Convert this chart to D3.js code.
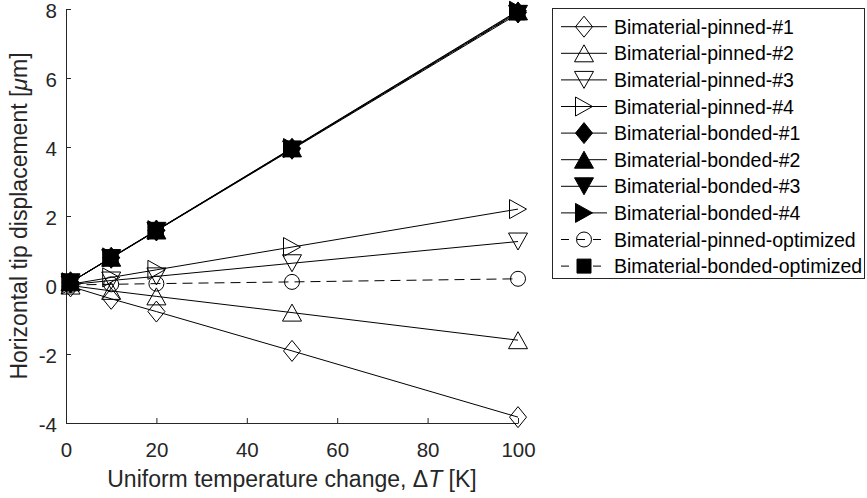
<!DOCTYPE html>
<html>
<head>
<meta charset="utf-8">
<script src="https://cdn.jsdelivr.net/npm/d3@7"></script>
<style>
  html, body { margin: 0; padding: 0; background: #fff; }
  svg { display: block; font-family: "Liberation Sans", Arial, Helvetica, sans-serif; }
</style>
</head>
<body>
<svg id="chart" width="867" height="498"></svg>
<script>
// ---- data ----
const deltaT = [1, 10, 20, 50, 100];
const pinned1 = [-0.04, -0.40, -0.77, -1.91, -3.83];
const pinned2 = [-0.016, -0.17, -0.33, -0.80, -1.60];
const pinned3 = [0.013, 0.13, 0.25, 0.63, 1.26];
const pinned4 = [0.022, 0.22, 0.44, 1.10, 2.20];
const bonded1 = [0.080, 0.79, 1.58, 3.95, 7.90];
const bonded2 = [0.079, 0.79, 1.58, 3.96, 7.93];
const bonded3 = [0.078, 0.78, 1.57, 3.93, 7.86];
const bonded4 = [0.080, 0.80, 1.59, 3.97, 7.95];
const pinnedOpt = [0.002, 0.02, 0.04, 0.09, 0.18];
const bondedOpt = [0.079, 0.79, 1.58, 3.95, 7.89];
const seriesNames = [
  "Bimaterial-pinned-#1", "Bimaterial-pinned-#2", "Bimaterial-pinned-#3", "Bimaterial-pinned-#4",
  "Bimaterial-bonded-#1", "Bimaterial-bonded-#2", "Bimaterial-bonded-#3", "Bimaterial-bonded-#4",
  "Bimaterial-pinned-optimized", "Bimaterial-bonded-optimized"
];
const seriesValues = [pinned1, pinned2, pinned3, pinned4, bonded1, bonded2, bonded3, bonded4, pinnedOpt, bondedOpt];
const seriesMarkers = ["diamond", "triUp", "triDown", "triRight", "diamond", "triUp", "triDown", "triRight", "circle", "square"];
const seriesFilled = [false, false, false, false, true, true, true, true, false, true];
const seriesDashed = [false, false, false, false, false, false, false, false, true, true];
const xTicks = [0, 20, 40, 60, 80, 100];
const yTicks = [-4, -2, 0, 2, 4, 6, 8];

// ---- layout ----
const svg = d3.select("#chart");
const mLeft = 66, mRight = 518, mTop = 9, mBottom = 423;
const x = d3.scaleLinear().domain([0, 100]).range([mLeft, mRight]);
const y = d3.scaleLinear().domain([-4, 8]).range([mBottom, mTop]);
const axisColor = "#262626";

svg.append("rect").attr("width", 867).attr("height", 498).attr("fill", "#fff");

// axes
const gx = svg.append("g").attr("transform", `translate(0,${mBottom})`)
  .call(d3.axisBottom(x).tickValues(xTicks).tickSizeInner(-5).tickSizeOuter(0).tickPadding(19)
    .tickFormat(d => String(d)));
const gy = svg.append("g").attr("transform", `translate(${mLeft},0)`)
  .call(d3.axisLeft(y).tickValues(yTicks).tickSizeInner(-5).tickSizeOuter(0).tickPadding(9)
    .tickFormat(d => String(d)));
[gx, gy].forEach(g => {
  g.selectAll("path.domain").attr("stroke", axisColor).attr("stroke-width", 1);
  g.selectAll(".tick line").attr("stroke", axisColor).attr("stroke-width", 1);
  g.selectAll(".tick text").attr("fill", axisColor).attr("font-size", 20.5)
    .attr("font-family", '"Liberation Sans", Arial, Helvetica, sans-serif');
});
gy.selectAll(".tick text").attr("dy", "0.42em");

// axis labels
const xl = svg.append("text").attr("x", (mLeft + mRight) / 2).attr("y", 487)
  .attr("text-anchor", "middle").attr("font-size", 23).attr("fill", axisColor);
xl.append("tspan").text("Uniform temperature change, \u0394");
xl.append("tspan").attr("font-style", "italic").text("T");
xl.append("tspan").text(" [K]");

const yl = svg.append("text").attr("transform", `translate(27,${(mTop + mBottom) / 2}) rotate(-90)`)
  .attr("text-anchor", "middle").attr("font-size", 23).attr("fill", axisColor);
yl.append("tspan").text("Horizontal tip displacement [");
yl.append("tspan").attr("font-style", "italic").text("\u03bc");
yl.append("tspan").text("m]");

// marker shapes
function markerPath(type) {
  switch (type) {
    case "diamond": { const w = 8.5, h = 10.5; return `M0,${-h}L${w},0L0,${h}L${-w},0Z`; }
    case "triUp": { const w = 9.5, h = 8.5; return `M0,${-h}L${w},${h}L${-w},${h}Z`; }
    case "triDown": { const w = 9.5, h = 8.5; return `M0,${h}L${w},${-h}L${-w},${-h}Z`; }
    case "triRight": { const w = 9.5, h = 8.5; return `M${h},0L${-h},${w}L${-h},${-w}Z`; }
    case "square": { const s = 7; return `M${-s},${-s}H${s}V${s}H${-s}Z`; }
    case "circle": { const r = 7.5; return `M${r},0A${r},${r} 0 1,1 ${-r},0A${r},${r} 0 1,1 ${r},0Z`; }
  }
}

const line = d3.line().x(d => x(d[0])).y(d => y(d[1]));
const plot = svg.append("g");
seriesValues.forEach((vals, i) => {
  const pts = deltaT.map((t, k) => [t, vals[k]]);
  const g = plot.append("g");
  g.append("path").attr("d", line(pts)).attr("fill", "none").attr("stroke", "#000")
    .attr("stroke-width", 1).attr("stroke-dasharray", seriesDashed[i] ? "10,6" : null);
  g.selectAll("path.m").data(pts).join("path").attr("class", "m")
    .attr("transform", d => `translate(${x(d[0])},${y(d[1])})`)
    .attr("d", markerPath(seriesMarkers[i]))
    .attr("fill", seriesFilled[i] ? "#000" : "none")
    .attr("stroke", "#000").attr("stroke-width", 1);
});

// legend
const lg = svg.append("g");
lg.append("rect").attr("x", 552.5).attr("y", 8.5).attr("width", 312).attr("height", 270)
  .attr("fill", "#fff").attr("stroke", axisColor).attr("stroke-width", 1);
seriesNames.forEach((name, i) => {
  const yy = 26.7 + 26.6 * i;
  lg.append("line").attr("x1", 561).attr("x2", 607).attr("y1", yy).attr("y2", yy)
    .attr("stroke", "#000").attr("stroke-width", 1)
    .attr("stroke-dasharray", seriesDashed[i] ? "8,8" : null);
  lg.append("path").attr("transform", `translate(584,${yy})`).attr("d", markerPath(seriesMarkers[i]))
    .attr("fill", seriesFilled[i] ? "#000" : "none").attr("stroke", "#000").attr("stroke-width", 1);
  lg.append("text").attr("x", 614).attr("y", yy).attr("dy", "0.36em")
    .attr("font-size", 19.5).attr("fill", "#000").text(name);
});
</script>
</body>
</html>
